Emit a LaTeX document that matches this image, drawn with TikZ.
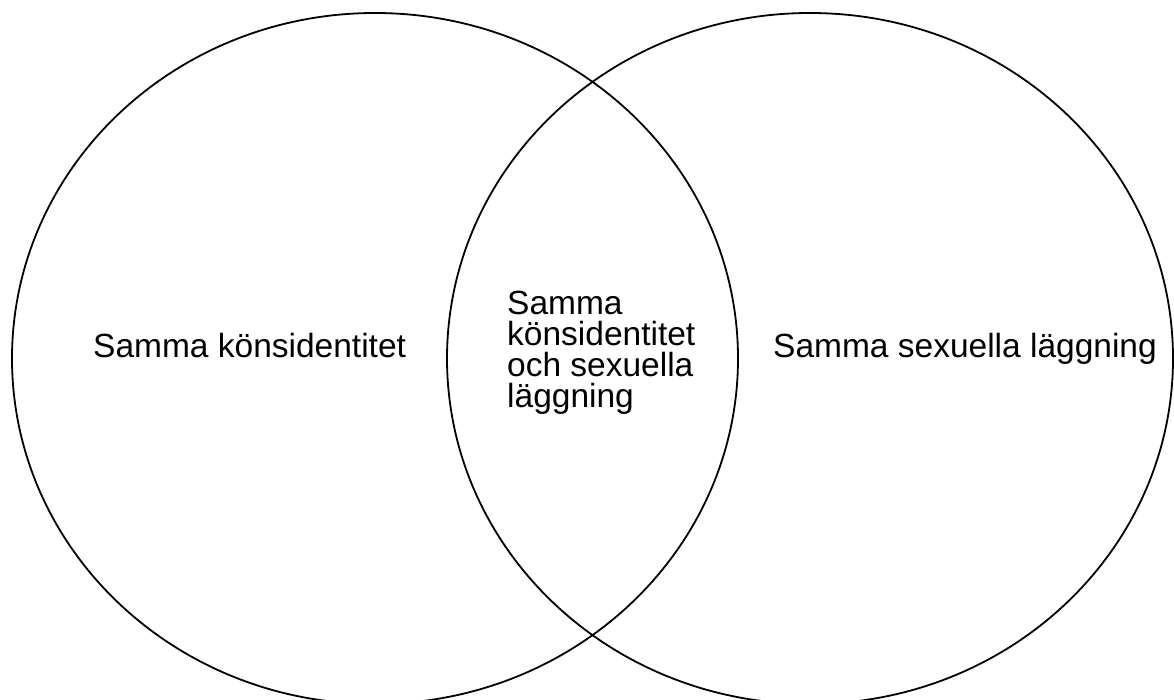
\documentclass[tikz,border=0pt]{standalone}
\usepackage{fontspec}
\setmainfont{Liberation Sans}
\begin{document}
\begin{tikzpicture}[x=1pt,y=-1pt,
  setcircle/.style={draw=black,line width=1.8pt},
  lbl/.style={inner sep=0pt,font=\fontsize{33.5}{30.8}\selectfont}]
\useasboundingbox (0,0) rectangle (1174,700);
\draw[setcircle] (375,358.5) ellipse [x radius=363, y radius=345.5];
\draw[setcircle] (810,358.5) ellipse [x radius=363, y radius=345.5];
\node[lbl,anchor=base west] (left) at (93,357) {Samma könsidentitet};
\node[lbl,anchor=base west] (right) at (773,357) {Samma sexuella läggning};
\node[lbl,anchor=base west,align=left] (mid) at (507,407) {Samma\\könsidentitet\\och sexuella\\läggning};
\end{tikzpicture}
\end{document}
